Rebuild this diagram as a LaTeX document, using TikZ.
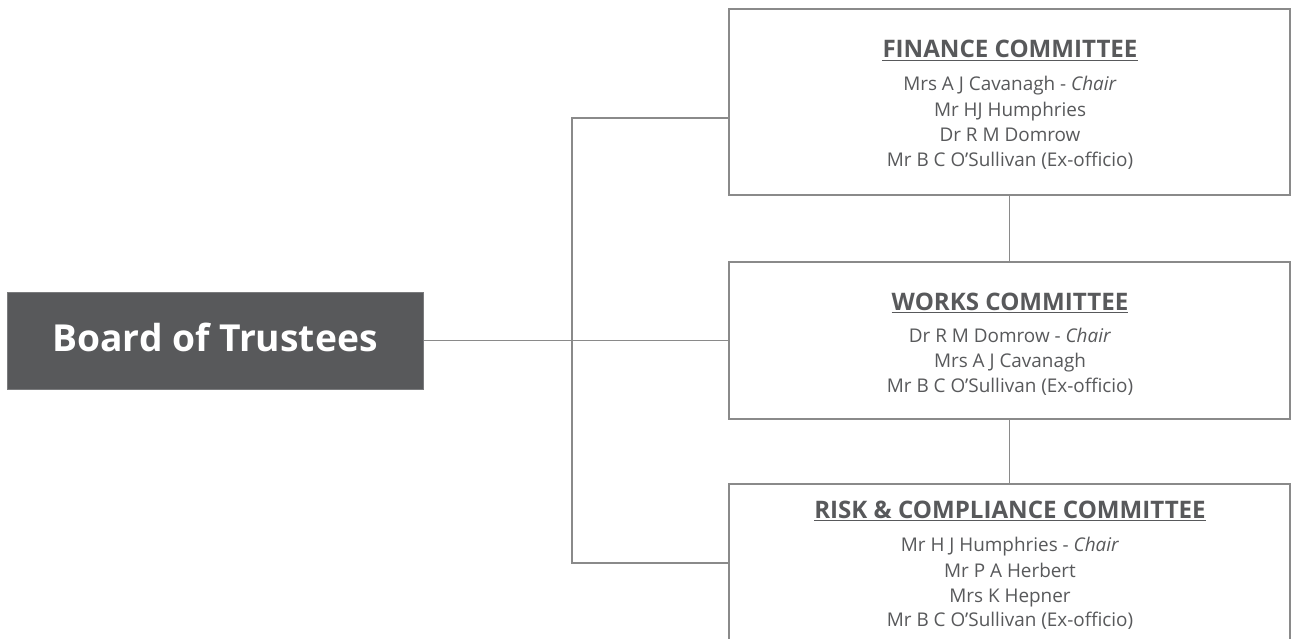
\documentclass[tikz,border=0pt]{standalone}
\usepackage{fontspec}
\setmainfont{Open Sans}
\definecolor{boardfill}{HTML}{58595B}
\definecolor{boardline}{HTML}{7A7B7D}
\definecolor{txt}{HTML}{58595B}
\definecolor{conn}{HTML}{8A8A8A}
\tikzset{
  connline/.style={draw=conn, line width=1.5pt},
  cbox/.style={draw=conn, line width=1.5pt, fill=white, minimum width=561pt, inner sep=0pt},
  ctitle/.style={anchor=base, inner sep=0pt, text=txt, font=\fontsize{24.1}{24.1}\selectfont\bfseries},
  member/.style={anchor=base, inner sep=0pt, text=txt, font=\fontsize{18.9}{18.9}\selectfont},
  ul/.style={draw=txt, line width=1.1pt},
}
\begin{document}
\begin{tikzpicture}[x=1pt,y=-1pt]
\useasboundingbox (0,0) rectangle (1291,639);
\clip (0,0) rectangle (1291,639);
\fill[white] (0,0) rectangle (1291,639);

% board
\node (board) [draw=boardline, fill=boardfill, line width=1pt, minimum width=416pt, minimum height=97pt, inner sep=0pt, text=white, font=\fontsize{37.2}{37.2}\selectfont\bfseries, text depth=6pt] at (215,340.5) {Board of Trustees};

% committee boxes
\node (fin) [cbox, minimum height=186pt] at (1009.5,102) {};
\node (works) [cbox, minimum height=157pt] at (1009.5,340.5) {};
\node (risk) [cbox, minimum height=176pt] at (1009.5,572) {};

% connectors
\coordinate (j) at (572,340.5);
\coordinate (fa) at (729,118);
\coordinate (ra) at (729,563);
\draw[connline] (board.east) -- (works.west);
\draw[connline] (fa) -| (j) |- (ra);
\draw[connline] (fin.south) -- (works.north);
\draw[connline] (works.south) -- (risk.north);

% finance text
\node (ft) [ctitle] at (1010,58) {FINANCE COMMITTEE};
\draw[ul] ([yshift=-2.6pt]ft.base west) -- ([yshift=-2.6pt]ft.base east);
\node (f1) [member] at (1010,91) {Mrs A J Cavanagh - \textit{Chair}};
\node (f2) [member] at (1010,117) {Mr HJ Humphries};
\node (f3) [member] at (1010,142) {Dr R M Domrow};
\node (f4) [member] at (1010,167) {Mr B C O’Sullivan (Ex-officio)};

% works text
\node (wt) [ctitle] at (1010,310) {WORKS COMMITTEE};
\draw[ul] ([yshift=-2.6pt]wt.base west) -- ([yshift=-2.6pt]wt.base east);
\node (w1) [member] at (1010,342) {Dr R M Domrow - \textit{Chair}};
\node (w2) [member] at (1010,367) {Mrs A J Cavanagh};
\node (w3) [member] at (1010,392) {Mr B C O’Sullivan (Ex-officio)};

% risk text
\node (rt) [ctitle] at (1010,518) {RISK \& COMPLIANCE COMMITTEE};
\draw[ul] ([yshift=-2.6pt]rt.base west) -- ([yshift=-2.6pt]rt.base east);
\node (r1) [member] at (1010,551) {Mr H J Humphries - \textit{Chair}};
\node (r2) [member] at (1010,577) {Mr P A Herbert};
\node (r3) [member] at (1010,602) {Mrs K Hepner};
\node (r4) [member] at (1010,626) {Mr B C O’Sullivan (Ex-officio)};
\end{tikzpicture}
\end{document}
